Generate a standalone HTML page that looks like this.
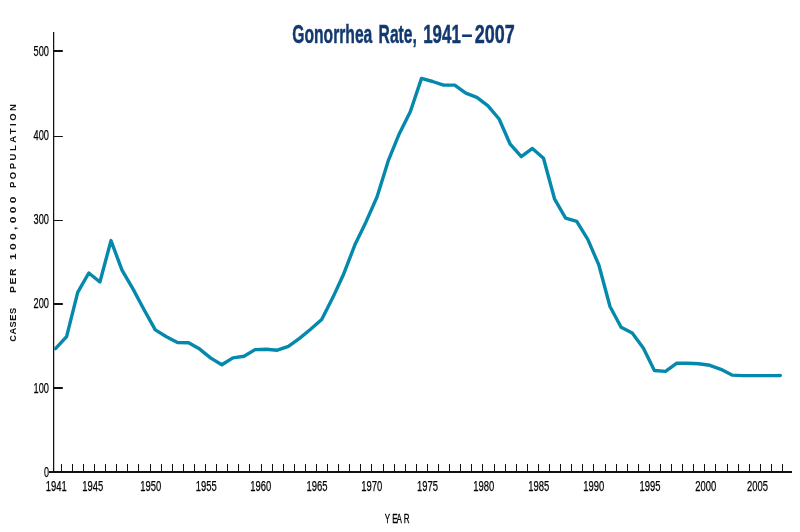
<!DOCTYPE html>
<html><head><meta charset="utf-8"><title>Gonorrhea Rate, 1941–2007</title>
<style>
html,body{margin:0;padding:0;background:#fff;}
svg{display:block;font-family:"Liberation Sans",sans-serif;}
</style></head><body>
<svg width="800" height="532" viewBox="0 0 800 532">
<rect width="800" height="532" fill="#fff"/>
<g font-size="25" font-weight="bold" fill="#12386f" stroke="#12386f" stroke-width="0.45">
<text x="292.3" y="42.6" textLength="80" lengthAdjust="spacingAndGlyphs">Gonorrhea</text>
<text x="378.6" y="42.6" textLength="38.3" lengthAdjust="spacingAndGlyphs">Rate,</text>
<text x="423.2" y="42.6" textLength="37.6" lengthAdjust="spacingAndGlyphs">1941</text>
<text x="461.5" y="42.6" textLength="11" lengthAdjust="spacingAndGlyphs" stroke="none">–</text>
<text x="474.8" y="42.6" textLength="40" lengthAdjust="spacingAndGlyphs">2007</text>
</g>
<g fill="#111">
<rect x="53" y="32" width="1.25" height="440"/>
<rect x="49" y="471" width="743" height="2"/>
<rect x="54" y="50" width="8.8" height="2"/><rect x="54" y="136" width="8.8" height="1"/><rect x="54" y="220" width="8.8" height="1"/><rect x="54" y="303" width="8.8" height="2"/><rect x="54" y="387" width="8.8" height="2"/>
<rect x="61" y="464" width="1" height="8"/><rect x="72" y="464" width="1" height="8"/><rect x="83" y="464" width="1" height="8"/><rect x="94" y="464" width="1" height="8"/><rect x="105" y="464" width="1" height="8"/><rect x="116" y="464" width="1" height="8"/><rect x="127" y="464" width="1" height="8"/><rect x="138" y="464" width="1" height="8"/><rect x="150" y="464" width="1" height="8"/><rect x="161" y="464" width="1" height="8"/><rect x="172" y="464" width="1" height="8"/><rect x="183" y="464" width="1" height="8"/><rect x="194" y="464" width="1" height="8"/><rect x="205" y="464" width="1" height="8"/><rect x="216" y="464" width="1" height="8"/><rect x="227" y="464" width="1" height="8"/><rect x="238" y="464" width="1" height="8"/><rect x="249" y="464" width="1" height="8"/><rect x="261" y="464" width="1" height="8"/><rect x="272" y="464" width="1" height="8"/><rect x="283" y="464" width="1" height="8"/><rect x="294" y="464" width="1" height="8"/><rect x="305" y="464" width="1" height="8"/><rect x="316" y="464" width="1" height="8"/><rect x="327" y="464" width="1" height="8"/><rect x="338" y="464" width="1" height="8"/><rect x="349" y="464" width="1" height="8"/><rect x="360" y="464" width="1" height="8"/><rect x="371" y="464" width="1" height="8"/><rect x="383" y="464" width="1" height="8"/><rect x="394" y="464" width="1" height="8"/><rect x="405" y="464" width="1" height="8"/><rect x="416" y="464" width="1" height="8"/><rect x="427" y="464" width="1" height="8"/><rect x="438" y="464" width="1" height="8"/><rect x="449" y="464" width="1" height="8"/><rect x="460" y="464" width="1" height="8"/><rect x="471" y="464" width="1" height="8"/><rect x="482" y="464" width="1" height="8"/><rect x="494" y="464" width="1" height="8"/><rect x="505" y="464" width="1" height="8"/><rect x="516" y="464" width="1" height="8"/><rect x="527" y="464" width="1" height="8"/><rect x="538" y="464" width="1" height="8"/><rect x="549" y="464" width="1" height="8"/><rect x="560" y="464" width="1" height="8"/><rect x="571" y="464" width="1" height="8"/><rect x="582" y="464" width="1" height="8"/><rect x="593" y="464" width="1" height="8"/><rect x="605" y="464" width="1" height="8"/><rect x="616" y="464" width="1" height="8"/><rect x="627" y="464" width="1" height="8"/><rect x="638" y="464" width="1" height="8"/><rect x="649" y="464" width="1" height="8"/><rect x="660" y="464" width="1" height="8"/><rect x="671" y="464" width="1" height="8"/><rect x="682" y="464" width="1" height="8"/><rect x="693" y="464" width="1" height="8"/><rect x="704" y="464" width="1" height="8"/><rect x="715" y="464" width="1" height="8"/><rect x="727" y="464" width="1" height="8"/><rect x="738" y="464" width="1" height="8"/><rect x="749" y="464" width="1" height="8"/><rect x="760" y="464" width="1" height="8"/><rect x="771" y="464" width="1" height="8"/><rect x="782" y="464" width="1" height="8"/>
</g>
<g font-size="15" fill="#000" stroke="#000" stroke-width="0.25">
<text x="33.6" y="56" textLength="15.4" lengthAdjust="spacingAndGlyphs">500</text><text x="33.6" y="140" textLength="15.4" lengthAdjust="spacingAndGlyphs">400</text><text x="33.6" y="224" textLength="15.4" lengthAdjust="spacingAndGlyphs">300</text><text x="33.6" y="308" textLength="15.4" lengthAdjust="spacingAndGlyphs">200</text><text x="33.6" y="393" textLength="15.4" lengthAdjust="spacingAndGlyphs">100</text>
<text x="44" y="476.5" font-size="15" textLength="5" lengthAdjust="spacingAndGlyphs">0</text>
</g>
<g font-size="15" fill="#000" stroke="#000" stroke-width="0.25">
<text x="45.75" y="491" textLength="21" lengthAdjust="spacingAndGlyphs">1941</text><text x="82.25" y="491" textLength="21" lengthAdjust="spacingAndGlyphs">1945</text><text x="140.25" y="491" textLength="21" lengthAdjust="spacingAndGlyphs">1950</text><text x="195.75" y="491" textLength="21" lengthAdjust="spacingAndGlyphs">1955</text><text x="250.25" y="491" textLength="21" lengthAdjust="spacingAndGlyphs">1960</text><text x="306.50" y="491" textLength="21" lengthAdjust="spacingAndGlyphs">1965</text><text x="361.25" y="491" textLength="21" lengthAdjust="spacingAndGlyphs">1970</text><text x="417.00" y="491" textLength="21" lengthAdjust="spacingAndGlyphs">1975</text><text x="473.25" y="491" textLength="21" lengthAdjust="spacingAndGlyphs">1980</text><text x="528.25" y="491" textLength="21" lengthAdjust="spacingAndGlyphs">1985</text><text x="583.25" y="491" textLength="21" lengthAdjust="spacingAndGlyphs">1990</text><text x="639.50" y="491" textLength="21" lengthAdjust="spacingAndGlyphs">1995</text><text x="695.25" y="491" textLength="21" lengthAdjust="spacingAndGlyphs">2000</text><text x="747.00" y="491" textLength="21" lengthAdjust="spacingAndGlyphs">2005</text>
</g>
<g font-size="8.3" font-weight="bold" fill="#111">
<text transform="translate(16.2,341.7) rotate(-90) scale(1.12,1)" textLength="30.18" lengthAdjust="spacing">CASES</text><text transform="translate(16.2,293) rotate(-90) scale(1.25,1)" textLength="19.60" lengthAdjust="spacing">PER</text><text transform="translate(16.2,260) rotate(-90) scale(1.45,1)" textLength="43.79" lengthAdjust="spacing">100,000</text><text transform="translate(16.2,188) rotate(-90) scale(1.15,1)" textLength="73.04" lengthAdjust="spacing">POPULATION</text>
</g>
<text transform="translate(0,522.7) scale(0.66,1)" font-size="12.2" fill="#000" stroke="#000" stroke-width="0.3" x="583 594.2 600.6 611.6">YEAR</text>
<path d="M55.5,348.6 L66.6,336.6 L77.7,292.3 L88.8,273.0 L99.9,282.0 L111.0,240.6 L122.0,270.2 L133.1,289.1 L144.2,310.0 L155.3,329.9 L166.4,336.7 L177.5,342.5 L188.6,342.8 L199.7,349.1 L210.8,358.1 L221.8,364.8 L232.9,357.9 L244.0,356.2 L255.1,349.6 L266.2,349.3 L277.3,350.2 L288.4,346.4 L299.5,338.4 L310.6,329.3 L321.7,319.5 L332.8,297.6 L343.8,273.7 L354.9,244.8 L366.0,221.9 L377.1,196.7 L388.2,160.9 L399.3,133.7 L410.4,111.5 L421.5,78.4 L432.6,81.5 L443.6,85.1 L454.7,85.1 L465.8,93.1 L476.9,97.4 L488.0,105.8 L499.1,119.0 L510.2,144.2 L521.3,156.6 L532.4,148.4 L543.5,158.2 L554.5,198.8 L565.6,218.1 L576.7,221.3 L587.8,239.4 L598.9,265.2 L610.0,306.5 L621.1,327.3 L632.2,333.1 L643.3,347.9 L654.4,370.5 L665.5,371.4 L676.5,363.3 L687.6,363.2 L698.7,363.7 L709.8,365.3 L720.9,369.3 L732.0,375.1 L743.1,375.6 L754.2,375.6 L765.3,375.6 L776.4,375.6 L780.3,375.5" fill="none" stroke="#0489ac" stroke-width="3.4" stroke-linejoin="round" stroke-linecap="round"/>
</svg>
</body></html>
